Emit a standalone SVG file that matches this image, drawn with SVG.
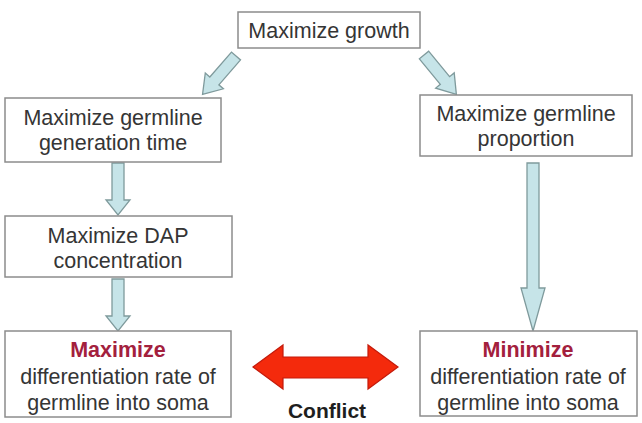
<svg xmlns="http://www.w3.org/2000/svg" width="642" height="423" viewBox="0 0 642 423">
  <style>
    .box { fill: #ffffff; stroke: #8c8c8c; stroke-width: 1.5; }
    .lbl { font-family: "Liberation Sans", Arial, sans-serif; font-size: 21.5px; fill: #353535; text-anchor: middle; }
    .em { font-weight: bold; fill: #a3203d; }
    .flow { fill: #c6e4e8; stroke: #7f9a9c; stroke-width: 1.3; stroke-linejoin: miter; }
    .clash { fill: #f42a0c; stroke: #c41a0a; stroke-width: 1.2; }
    .cap { font-family: "Liberation Sans", Arial, sans-serif; font-size: 21px; font-weight: bold; fill: #1e1e1e; text-anchor: middle; }
  </style>
  <defs>
    <!-- unit block arrow pointing along +x, 51 long -->
    <polygon id="diag" points="0,-6 33,-6 33,-12 51,0 33,12 33,6 0,6"/>
  </defs>

  <g id="connectors">
    <use href="#diag" class="flow" transform="translate(236,56) rotate(131)"/>
    <use href="#diag" class="flow" transform="translate(424,55) rotate(50.6)"/>
    <polygon class="flow" points="112,163 124,163 124,200 130,200 118,215 106,200 112,200"/>
    <polygon class="flow" points="112,279 124,279 124,316 130,316 118,331 106,316 112,316"/>
    <polygon class="flow" points="527,163 539,163 539,288 545,288 533,331 521,288 527,288"/>
    <polygon class="clash" points="253,367 283,345 283,357 368,357 368,345 398,367 368,389 368,378 283,378 283,389"/>
    <text class="cap" x="327" y="418">Conflict</text>
  </g>

  <g id="growth">
    <rect class="box" x="238" y="12" width="182" height="36"/>
    <text class="lbl" x="329" y="38">Maximize growth</text>
  </g>

  <g id="generation-time">
    <rect class="box" x="5" y="98" width="216" height="64"/>
    <text class="lbl" x="113" y="125">Maximize germline</text>
    <text class="lbl" x="113" y="150">generation time</text>
  </g>

  <g id="germline-proportion">
    <rect class="box" x="420" y="95" width="212" height="61"/>
    <text class="lbl" x="526" y="121">Maximize germline</text>
    <text class="lbl" x="526" y="146">proportion</text>
  </g>

  <g id="dap">
    <rect class="box" x="5" y="216" width="227" height="61"/>
    <text class="lbl" x="118" y="243">Maximize DAP</text>
    <text class="lbl" x="118" y="268">concentration</text>
  </g>

  <g id="max-diff">
    <rect class="box" x="5" y="331" width="226" height="86"/>
    <text class="lbl em" x="118" y="357">Maximize</text>
    <text class="lbl" x="118" y="384">differentiation rate of</text>
    <text class="lbl" x="118" y="410">germline into soma</text>
  </g>

  <g id="min-diff">
    <rect class="box" x="420" y="331" width="217" height="85"/>
    <text class="lbl em" x="528" y="357">Minimize</text>
    <text class="lbl" x="528" y="384">differentiation rate of</text>
    <text class="lbl" x="528" y="410">germline into soma</text>
  </g>
</svg>
